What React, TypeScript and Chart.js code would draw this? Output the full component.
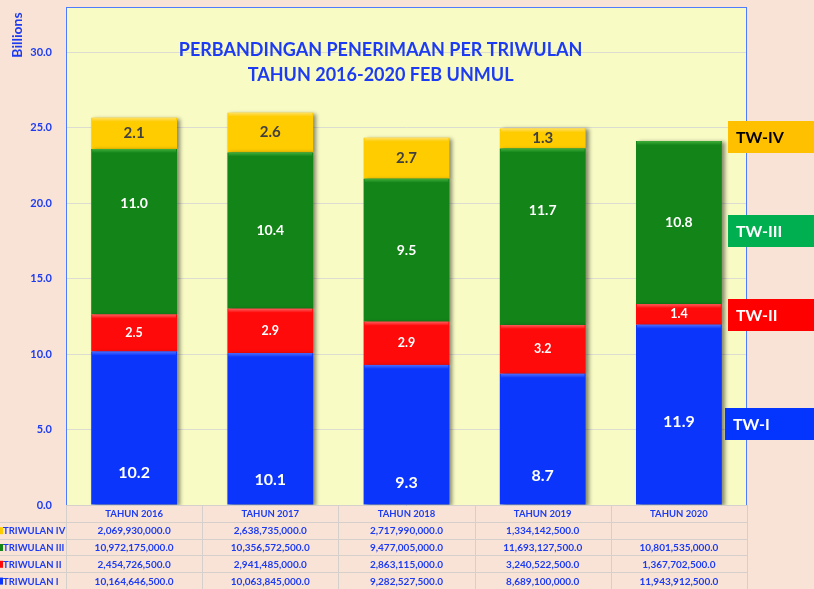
import React, { useEffect, useRef } from 'react';
import { Chart, registerables } from 'chart.js';

Chart.register(...registerables);

const categories = ['TAHUN 2016', 'TAHUN 2017', 'TAHUN 2018', 'TAHUN 2019', 'TAHUN 2020'];
const seriesNames = ['TRIWULAN I', 'TRIWULAN II', 'TRIWULAN III', 'TRIWULAN IV'];
const legendNames = ['TW-I', 'TW-II', 'TW-III', 'TW-IV'];
const tw1 = [10164646500, 10063845000, 9282527500, 8689100000, 11943912500];
const tw2 = [2454726500, 2941485000, 2863115000, 3240522500, 1367702500];
const tw3 = [10972175000, 10356572500, 9477005000, 11693127500, 10801535000];
const tw4: (number | null)[] = [2069930000, 2638735000, 2717990000, 1334142500, null];
const yTickValues = [0, 5, 10, 15, 20, 25, 30];
const titleLines = ['PERBANDINGAN PENERIMAAN PER TRIWULAN', 'TAHUN 2016-2020 FEB UNMUL'];

// label anchor within each segment (fraction from the segment bottom)
const labelAnchor = [
  [0.21, 0.165, 0.157, 0.22, 0.46],
  [0.5, 0.5, 0.5, 0.5, 0.5],
  [0.67, 0.5, 0.5, 0.65, 0.5],
  [0.5, 0.5, 0.5, 0.5, 0.5],
];

const FONT = 'Lato, "Open Sans", sans-serif';
const TEXT_BLUE = '#1d3cf2';
const PAGE_BG = '#f8e3d6';
const PLOT_BG = '#f8fbc4';
const barColors = ['#0b35fb', '#ff0a0a', '#138418', '#ffcc00'];
const barTops = ['#4a6cff', '#ff5a5a', '#3fae3a', '#ffe066'];
const legendColors = ['#0435ff', '#ff0000', '#00b050', '#ffc000'];
const legendText = ['#ffffff', '#ffffff', '#ffffff', '#000000'];
const labelColors = ['#ffffff', '#ffffff', '#ffffff', '#404040'];
const labelSizes = [16, 12.5, 14, 15];

const raw = [tw1, tw2, tw3, tw4];
const toBillions = (arr: (number | null)[]) => arr.map((v) => (v == null ? null : v / 1e9));
const fmt = (v: number | null) =>
  v == null
    ? ''
    : v.toLocaleString('en-US', { minimumFractionDigits: 1, maximumFractionDigits: 1 });

const decorPlugin = {
  id: 'decor',
  beforeDraw(chart: any) {
    const { ctx, chartArea: a } = chart;
    ctx.save();
    ctx.fillStyle = PAGE_BG;
    ctx.fillRect(0, 0, chart.width, chart.height);
    ctx.fillStyle = PLOT_BG;
    ctx.fillRect(a.left, a.top, a.right - a.left, a.bottom - a.top);
    ctx.restore();
  },
  beforeDatasetsDraw(chart: any) {
    const ctx = chart.ctx;
    ctx.save();
    ctx.shadowColor = 'rgba(0,0,0,0.45)';
    ctx.shadowBlur = 4;
    ctx.shadowOffsetX = 3;
    ctx.shadowOffsetY = 1;
  },
  afterDatasetsDraw(chart: any) {
    const ctx = chart.ctx;
    ctx.restore();
    chart.data.datasets.forEach((ds: any, di: number) => {
      const meta = chart.getDatasetMeta(di);
      meta.data.forEach((el: any, i: number) => {
        if (ds.data[i] == null) return;
        const w = el.width;
        const x0 = el.x - w / 2;
        const g = ctx.createLinearGradient(0, el.y, 0, el.y + 4);
        g.addColorStop(0, barTops[di]);
        g.addColorStop(1, barColors[di]);
        ctx.fillStyle = g;
        ctx.fillRect(x0 + 1, el.y, w - 2, 4);
      });
    });
  },
  afterDraw(chart: any) {
    const { ctx, chartArea: a } = chart;
    ctx.save();
    ctx.textAlign = 'center';
    ctx.textBaseline = 'middle';
    chart.data.datasets.forEach((ds: any, di: number) => {
      const meta = chart.getDatasetMeta(di);
      ctx.font = `bold ${labelSizes[di]}px ${FONT}`;
      ctx.fillStyle = labelColors[di];
      meta.data.forEach((el: any, i: number) => {
        const v = ds.data[i];
        if (v == null) return;
        const f = labelAnchor[di][i];
        const y = el.base - f * (el.base - el.y);
        ctx.fillText(v.toFixed(1), el.x, y);
      });
    });

    // plot border
    ctx.strokeStyle = '#4f7cff';
    ctx.lineWidth = 1;
    ctx.strokeRect(a.left + 0.5, a.top + 0.5, a.right - a.left - 1, a.bottom - a.top);

    // title
    ctx.fillStyle = TEXT_BLUE;
    ctx.font = `bold 18px ${FONT}`;
    const tx = a.left + (a.right - a.left) * 0.462;
    ctx.fillText(titleLines[0], tx, 50);
    ctx.fillText(titleLines[1], tx, 75);

    // y axis title
    ctx.save();
    ctx.translate(17, 35);
    ctx.rotate(-Math.PI / 2);
    ctx.font = `bold 14px ${FONT}`;
    ctx.fillText('Billions', 0, 0);
    ctx.restore();

    // legend boxes
    const legendY = [424, 315, 231, 137];
    ctx.textAlign = 'left';
    ctx.font = `bold 16px ${FONT}`;
    for (let k = 3; k >= 0; k--) {
      const y = legendY[k];
      const x0 = k === 0 ? a.right - 22 : a.right - 19;
      ctx.fillStyle = legendColors[k];
      ctx.fillRect(x0, y - 16, chart.width - x0, 32);
      ctx.fillStyle = legendText[k];
      ctx.fillText(legendNames[k], x0 + 8, y + 1);
    }

    // data table
    const top = a.bottom;
    const rowH = (chart.height - top) / 5;
    const colW = (a.right - a.left) / categories.length;
    ctx.strokeStyle = '#d6d0cc';
    ctx.lineWidth = 1;
    for (let r = 0; r <= 5; r++) {
      const y = Math.round(top + r * rowH) + 0.5;
      ctx.beginPath();
      ctx.moveTo(r === 0 ? a.left : 0, y);
      ctx.lineTo(a.right, y);
      ctx.stroke();
    }
    for (let c = 0; c <= categories.length; c++) {
      const x = Math.round(a.left + c * colW) + 0.5;
      ctx.beginPath();
      ctx.moveTo(x, top);
      ctx.lineTo(x, chart.height);
      ctx.stroke();
    }
    ctx.fillStyle = TEXT_BLUE;
    ctx.textAlign = 'center';
    ctx.font = `bold 9.5px ${FONT}`;
    categories.forEach((cat, c) => {
      ctx.fillText(cat, a.left + (c + 0.5) * colW, top + rowH / 2 + 1);
    });
    for (let r = 0; r < 4; r++) {
      const si = 3 - r;
      const y = top + (r + 1.5) * rowH + 1;
      ctx.fillStyle = barColors[si];
      ctx.fillRect(0, y - 4, 3, 7);
      ctx.fillStyle = TEXT_BLUE;
      ctx.textAlign = 'left';
      ctx.font = `bold 9.5px ${FONT}`;
      ctx.fillText(seriesNames[si], 3, y);
      ctx.textAlign = 'center';
      ctx.font = `bold 10px ${FONT}`;
      raw[si].forEach((v, c) => {
        ctx.fillText(fmt(v), a.left + (c + 0.5) * colW, y);
      });
    }
    ctx.restore();
  },
};

export default function App() {
  const ref = useRef<HTMLCanvasElement | null>(null);
  useEffect(() => {
    document.body.style.margin = '0';
    const canvas = ref.current!;
    const chart = new Chart(canvas, {
      type: 'bar',
      data: {
        labels: categories,
        datasets: raw.map((arr, i) => ({
          label: seriesNames[i],
          data: toBillions(arr),
          backgroundColor: barColors[i],
          borderWidth: 0,
        })),
      },
      options: {
        responsive: false,
        animation: false,
        layout: { padding: { top: 7, right: 67, bottom: 84, left: 0 } },
        datasets: { bar: { categoryPercentage: 1, barPercentage: 0.63 } } as any,
        plugins: {
          legend: { display: false },
          tooltip: { enabled: false },
          title: { display: false },
        },
        scales: {
          x: { stacked: true, display: false },
          y: {
            stacked: true,
            min: 0,
            max: 33,
            afterBuildTicks: (s: any) => {
              s.ticks = yTickValues.map((v) => ({ value: v }));
            },
            afterFit: (s: any) => {
              s.width = 66;
              s.paddingTop = 0;
              s.paddingBottom = 0;
            },
            border: { display: false },
            grid: { color: '#dcdcd0', drawTicks: false },
            ticks: {
              padding: 14,
              color: TEXT_BLUE,
              font: { family: FONT, weight: 'bold', size: 11 },
              callback: (v: any) => Number(v).toFixed(1),
            },
          },
        },
      },
      plugins: [decorPlugin],
    });
    return () => chart.destroy();
  }, []);
  return <canvas ref={ref} width={814} height={589} style={{ display: 'block' }} />;
}
